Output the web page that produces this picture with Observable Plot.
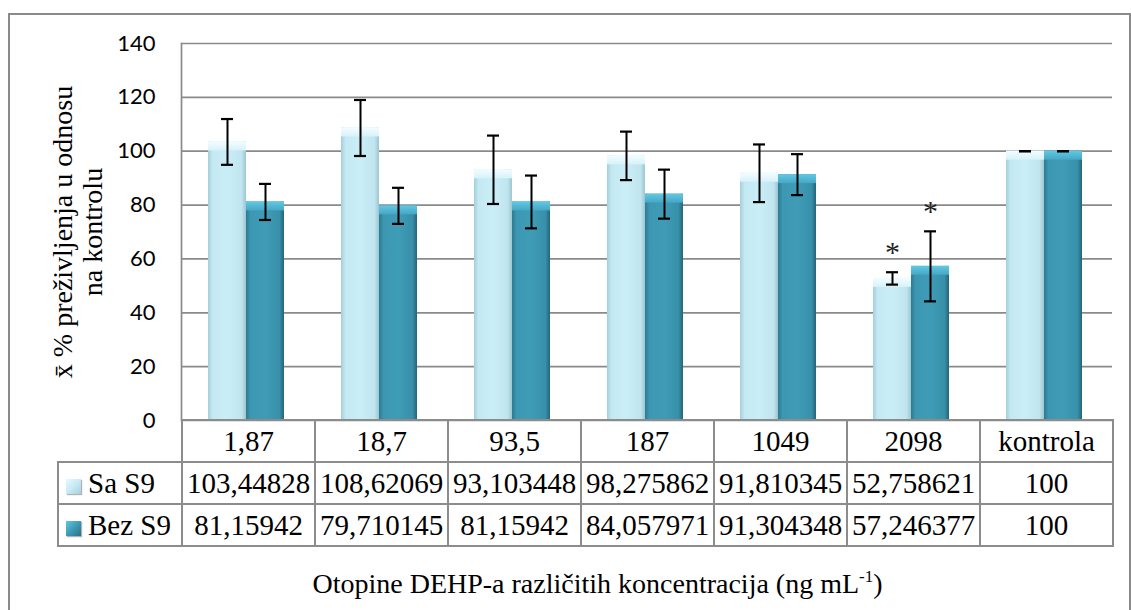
<!DOCTYPE html>
<html>
<head>
<meta charset="utf-8">
<script src="https://cdn.jsdelivr.net/npm/d3@7"></script>
<script src="https://cdn.jsdelivr.net/npm/@observablehq/plot@0.6"></script>
<style>
  body { margin: 0; background: #fff; }
  #wrap { position: relative; width: 1131px; height: 610px; overflow: hidden; font-family: "Liberation Serif", "Times New Roman", serif; color: #000; }
  #border { position: absolute; left: 8px; top: 13px; width: 1119px; height: 660px; border: 2px solid #8a8a8a; z-index: 3; pointer-events: none; }
  #chart { position: absolute; left: 0; top: 0; z-index: 1; }
  #tbl { position: absolute; top: 419px; z-index: 2; border-collapse: collapse; table-layout: fixed; font-size: 29px; font-family: "Liberation Serif", "Times New Roman", serif; }
  #tbl td { border: 2px solid #8c8c8c; height: 40px; padding: 0; text-align: center; vertical-align: middle; white-space: nowrap; overflow: visible; line-height: 40px; font-family: "Liberation Serif", "Times New Roman", serif; }
  #tbl td.blank { border: none; }
  #tbl td.leg { text-align: left; padding-left: 7px; }
  .sw { display: inline-block; width: 15px; height: 15px; margin-right: 7px; vertical-align: -1px; box-shadow: 1px 1px 1px rgba(0,0,0,0.3); }
  .sw.sa { background: linear-gradient(135deg, #e9f9fd 0%, #c6ebf5 50%, #a5d0db 100%); }
  .sw.bez { background: linear-gradient(135deg, #62c6e0 0%, #3e9bb6 50%, #2a6f85 100%); }
  #xtitle { position: absolute; top: 566px; font-size: 28px; line-height: 36px; text-align: center; z-index: 2; box-sizing: border-box; padding-left: 26px; }
  #xtitle sup { font-size: 17px; vertical-align: 11px; line-height: 0; }
</style>
</head>
<body>
<div id="wrap">
  <div id="border"></div>
  <div id="chart"></div>
  <table id="tbl"></table>
  <div id="xtitle">Otopine DEHP-a različitih koncentracija (ng mL<sup>-1</sup>)</div>
</div>
<script>
// ---- data ----
const categories = ["1,87", "18,7", "93,5", "187", "1049", "2098", "kontrola"];
const seriesNames = ["Sa S9", "Bez S9"];
const saS9  = [103.44828, 108.62069, 93.103448, 98.275862, 91.810345, 52.758621, 100];
const bezS9 = [81.15942, 79.710145, 81.15942, 84.057971, 91.304348, 57.246377, 100];
const errSa  = [8.5, 10.4, 12.7, 9.0, 10.7, 2.3, 0];
const errBez = [6.7, 6.7, 9.8, 9.1, 7.6, 13.0, 0];
const sigSa  = [false, false, false, false, false, true, false];
const sigBez = [false, false, false, false, false, true, false];
const yTicks = [0, 20, 40, 60, 80, 100, 120, 140];
const yTitle = "x\u0304 % preživljenja u odnosu\nna kontrolu";

const rows = categories.flatMap((c, i) => [
  {cat: c, series: seriesNames[0], value: saS9[i], err: errSa[i], sig: sigSa[i]},
  {cat: c, series: seriesNames[1], value: bezS9[i], err: errBez[i], sig: sigBez[i]}
]);
const saRows = rows.filter(d => d.series === seriesNames[0]);
const bezRows = rows.filter(d => d.series === seriesNames[1]);
const serif = '"Liberation Serif", "Times New Roman", serif';

const chart = Plot.plot({
  width: 1131,
  height: 422,
  marginLeft: 180,
  marginRight: 18,
  marginTop: 43,
  marginBottom: 2,
  style: {background: "transparent", overflow: "visible", color: "#000"},
  fx: {domain: categories, padding: 0, axis: null, label: null},
  x: {domain: seriesNames, paddingInner: 0, paddingOuter: 0.75, align: 0.47, axis: null, label: null},
  y: {domain: [0, 140], label: null},
  marks: [
    Plot.ruleY(yTicks, {stroke: "#8a8a8a", strokeWidth: 1.7}),
    Plot.barY(saRows, {fx: "cat", x: "series", y: "value", fill: "url(#gSa)", ariaLabel: "bar-main"}),
    Plot.barY(bezRows, {fx: "cat", x: "series", y: "value", fill: "url(#gBez)", ariaLabel: "bar-main"}),
    Plot.barY(saRows, {fx: "cat", x: "series", y1: "value", y2: "value", insetBottom: -9, fill: "url(#gSaTop)", ariaLabel: "bar-top"}),
    Plot.barY(bezRows, {fx: "cat", x: "series", y1: "value", y2: "value", insetBottom: -9, fill: "url(#gBezTop)", ariaLabel: "bar-top"}),
    Plot.ruleX(rows, {fx: "cat", x: "series", y1: d => d.value - d.err, y2: d => d.value + d.err, stroke: "#000", strokeWidth: 2}),
    Plot.tickY(rows, {fx: "cat", x: "series", y: d => d.value + d.err, insetLeft: 13, insetRight: 13, stroke: "#000", strokeWidth: 2.2}),
    Plot.tickY(rows, {fx: "cat", x: "series", y: d => d.value - d.err, insetLeft: 13, insetRight: 13, stroke: "#000", strokeWidth: 2.2}),
    Plot.text(rows.filter(d => d.sig), {fx: "cat", x: "series", y: d => d.value + d.err, text: () => "*", dy: -20, fontSize: 30, fontFamily: serif, fill: "#222"}),
    Plot.frame({anchor: "left", facetAnchor: "left", stroke: "#8a8a8a", strokeWidth: 1.7}),
    Plot.axisY({ticks: yTicks, tickSize: 0, tickPadding: 26, fontSize: 22, fontFamily: "Lato, Carlito, sans-serif", label: null, facetAnchor: "left"}),
    Plot.text([yTitle], {text: d => d, frameAnchor: "left", facetAnchor: "left", textAnchor: "middle", lineAnchor: "middle", rotate: -90, dx: -104, fontSize: 28, lineHeight: 1.05, fontFamily: serif, fill: "#000"})
  ]
});

// gradient defs for the bevelled bars
const svgns = "http://www.w3.org/2000/svg";
const defs = document.createElementNS(svgns, "defs");
defs.innerHTML = `
  <linearGradient id="gSa" x1="0" x2="1" y1="0" y2="0">
    <stop offset="0" stop-color="#a3cfda"/>
    <stop offset="0.12" stop-color="#c4e9f3"/>
    <stop offset="0.5" stop-color="#c9eef8"/>
    <stop offset="0.88" stop-color="#c0e5ef"/>
    <stop offset="1" stop-color="#9cc6d1"/>
  </linearGradient>
  <linearGradient id="gBez" x1="0" x2="1" y1="0" y2="0">
    <stop offset="0" stop-color="#2d7a91"/>
    <stop offset="0.12" stop-color="#3c97b2"/>
    <stop offset="0.5" stop-color="#3f9cb7"/>
    <stop offset="0.88" stop-color="#3890aa"/>
    <stop offset="1" stop-color="#24657a"/>
  </linearGradient>
  <linearGradient id="gSaTop" x1="0" x2="0" y1="0" y2="1">
    <stop offset="0" stop-color="#f3fdff"/>
    <stop offset="1" stop-color="#d6f2f9"/>
  </linearGradient>
  <linearGradient id="gBezTop" x1="0" x2="0" y1="0" y2="1">
    <stop offset="0" stop-color="#62c8e4"/>
    <stop offset="1" stop-color="#45a7c3"/>
  </linearGradient>`;
chart.prepend(defs);
chart.querySelectorAll('g[aria-label="bar-main"]').forEach(g => {
  g.style.filter = "drop-shadow(3px 1px 2px rgba(0,0,0,0.28))";
});
// turn the top highlight strips into bevel trapezoids
chart.querySelectorAll('g[aria-label="bar-top"] rect').forEach(r => {
  const x = +r.getAttribute("x"), y = +r.getAttribute("y");
  const w = +r.getAttribute("width"), h = +r.getAttribute("height");
  const p = document.createElementNS(svgns, "path");
  const b = Math.min(h, w / 2);
  p.setAttribute("d", `M${x},${y}H${x + w}L${x + w - b},${y + h}H${x + b}Z`);
  p.setAttribute("fill", r.getAttribute("fill") || r.parentNode.getAttribute("fill"));
  r.replaceWith(p);
});
document.getElementById("chart").appendChild(chart);

// data table aligned with the chart's fx scale
const fx = chart.scale("fx");
const bw = fx.bandwidth;
const firstLeft = fx.apply(categories[0]);
const legendLeft = 57;
const legendW = firstLeft - legendLeft;
const fmt = v => String(v).replace(".", ",");
const tbl = document.getElementById("tbl");
tbl.style.left = legendLeft + "px";
let html = `<colgroup><col style="width:${legendW}px">` + categories.map(() => `<col style="width:${bw}px">`).join("") + `</colgroup>`;
html += `<tr><td class="blank"></td>` + categories.map(c => `<td>${c}</td>`).join("") + `</tr>`;
html += `<tr><td class="leg"><span class="sw sa"></span>${seriesNames[0]}</td>` + saS9.map(v => `<td>${fmt(v)}</td>`).join("") + `</tr>`;
html += `<tr><td class="leg"><span class="sw bez"></span>${seriesNames[1]}</td>` + bezS9.map(v => `<td>${fmt(v)}</td>`).join("") + `</tr>`;
tbl.innerHTML = html;
tbl.style.width = (legendW + bw * categories.length) + "px";

const xt = document.getElementById("xtitle");
xt.style.left = legendLeft + "px";
xt.style.width = (legendW + bw * categories.length) + "px";
</script>
</body>
</html>
